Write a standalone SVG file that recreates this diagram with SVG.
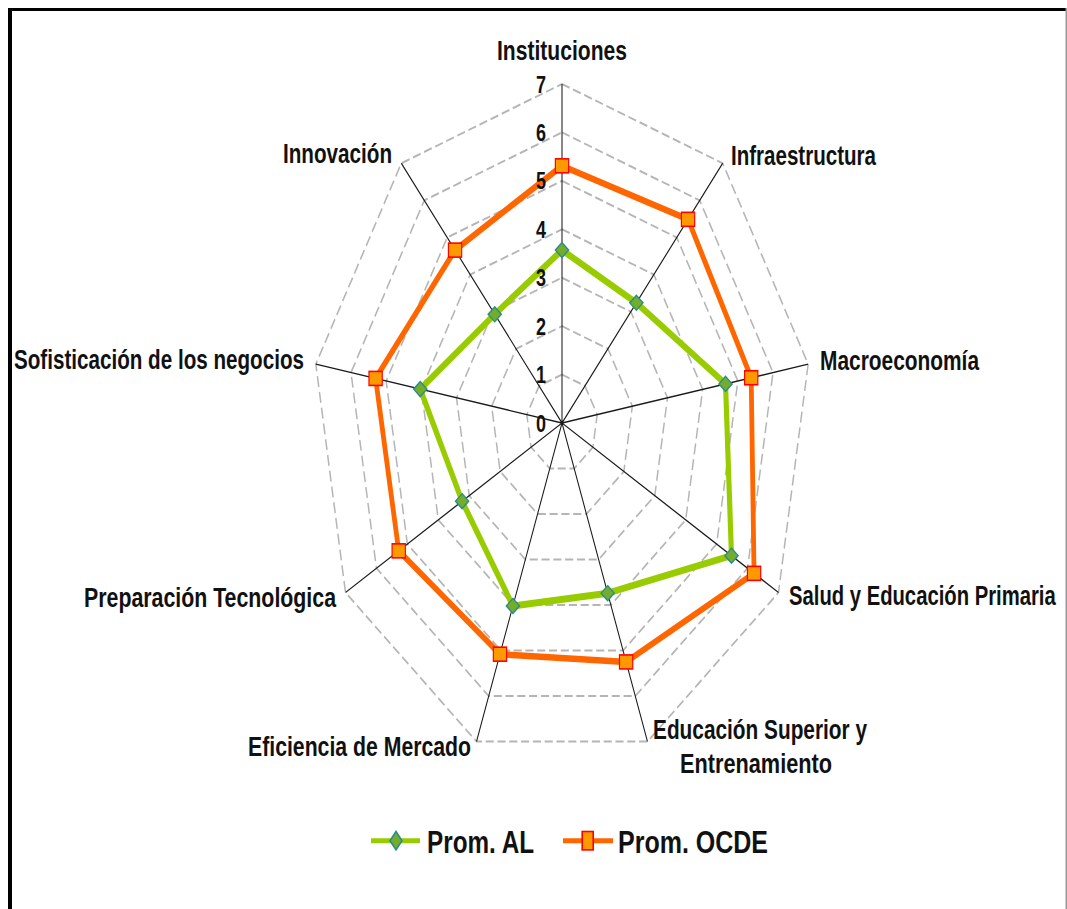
<svg xmlns="http://www.w3.org/2000/svg" xmlns:xlink="http://www.w3.org/1999/xlink" width="1067" height="909" viewBox="0 0 1067 909">
<style>
.lbl{font-family:"Liberation Sans",Arial,sans-serif;font-weight:bold;font-size:27px;fill:#111}
.num{font-family:"Liberation Sans",Arial,sans-serif;font-weight:bold;font-size:24px;fill:#111;text-anchor:end}
.leg{font-family:"Liberation Sans",Arial,sans-serif;font-weight:bold;font-size:31px;fill:#111}
.ring{fill:none;stroke:#B5B5B5;stroke-width:2;stroke-dasharray:11 5}
.axis{stroke:#1a1a1a;stroke-width:1.4;fill:none}
.al{fill:none;stroke:#99CC00;stroke-width:7;stroke-linejoin:round}
.ocde{fill:none;stroke:#FF6600;stroke-width:6.5;stroke-linejoin:round}
.dm{fill:#72AE2C;stroke:#2E8B8B;stroke-width:1.6}
.sq{fill:#FF9900;stroke:#FF0000;stroke-width:1.6}
</style>
<defs>
<path id="dm" d="M0,-7.5 L9,0 L0,7.5 L-9,0 Z"/>
<rect id="sq" x="-9" y="-7" width="18" height="14"/>
</defs>
<rect width="1067" height="909" fill="#fff"/>
<g id="frame">
<rect x="8" y="8" width="4" height="901" fill="#000"/>
<rect x="8" y="8" width="1059" height="3" fill="#000"/>
<rect x="1065.5" y="8" width="1.5" height="901" fill="#9a9a9a"/>
</g>
<g id="chart" transform="translate(562,423) scale(0.7374,1)">
<g id="grid">
<polygon class="ring" points="0,-48.43 31.13,-37.10 47.69,-8.41 41.94,24.22 16.56,45.51 -16.56,45.51 -41.94,24.22 -47.69,-8.41 -31.13,-37.10"/>
<polygon class="ring" points="0,-96.86 62.26,-74.20 95.38,-16.82 83.88,48.43 33.12,91.02 -33.12,91.02 -83.88,48.43 -95.38,-16.82 -62.26,-74.20"/>
<polygon class="ring" points="0,-145.29 93.39,-111.30 143.07,-25.23 125.82,72.65 49.68,136.53 -49.68,136.53 -125.82,72.65 -143.07,-25.23 -93.39,-111.30"/>
<polygon class="ring" points="0,-193.72 124.52,-148.40 190.76,-33.64 167.76,96.86 66.24,182.04 -66.24,182.04 -167.76,96.86 -190.76,-33.64 -124.52,-148.40"/>
<polygon class="ring" points="0,-242.15 155.65,-185.50 238.45,-42.05 209.70,121.08 82.80,227.55 -82.80,227.55 -209.70,121.08 -238.45,-42.05 -155.65,-185.50"/>
<polygon class="ring" points="0,-290.58 186.78,-222.60 286.14,-50.46 251.64,145.29 99.36,273.06 -99.36,273.06 -251.64,145.29 -286.14,-50.46 -186.78,-222.60"/>
<polygon class="ring" points="0,-339.01 217.91,-259.70 333.83,-58.87 293.58,169.51 115.92,318.57 -115.92,318.57 -293.58,169.51 -333.83,-58.87 -217.91,-259.70"/>
</g>
<g id="axes">
<path class="axis" d="M0,0 L0,-339.01 M0,0 L217.91,-259.70 M0,0 L333.83,-58.87 M0,0 L293.58,169.51 M0,0 L115.92,318.57 M0,0 L-115.92,318.57 M0,0 L-293.58,169.51 M0,0 L-333.83,-58.87 M0,0 L-217.91,-259.70"/>
</g>
<g id="connectors">
<polygon class="al" points="0,-172.9 100.86,-120.2 221.76,-39.1 229.83,132.7 61.93,170.2 -66.57,182.95 -135.47,78.21 -192.19,-33.89 -91.21,-108.70"/>
<polygon class="ocde" points="0,-257.16 170.90,-203.68 256.57,-45.25 260.45,150.37 86.94,238.93 -84.12,231.19 -221.44,127.85 -252.76,-44.57 -145.07,-172.89"/>
</g>
<g id="markers-al">
<use href="#dm" class="dm" x="0" y="-172.9"/>
<use href="#dm" class="dm" x="100.86" y="-120.2"/>
<use href="#dm" class="dm" x="221.76" y="-39.1"/>
<use href="#dm" class="dm" x="229.83" y="132.7"/>
<use href="#dm" class="dm" x="61.93" y="170.2"/>
<use href="#dm" class="dm" x="-66.57" y="182.95"/>
<use href="#dm" class="dm" x="-135.47" y="78.21"/>
<use href="#dm" class="dm" x="-192.19" y="-33.89"/>
<use href="#dm" class="dm" x="-91.21" y="-108.70"/>
</g>
<g id="markers-ocde">
<use href="#sq" class="sq" x="0" y="-257.16"/>
<use href="#sq" class="sq" x="170.90" y="-203.68"/>
<use href="#sq" class="sq" x="256.57" y="-45.25"/>
<use href="#sq" class="sq" x="260.45" y="150.37"/>
<use href="#sq" class="sq" x="86.94" y="238.93"/>
<use href="#sq" class="sq" x="-84.12" y="231.19"/>
<use href="#sq" class="sq" x="-221.44" y="127.85"/>
<use href="#sq" class="sq" x="-252.76" y="-44.57"/>
<use href="#sq" class="sq" x="-145.07" y="-172.89"/>
</g>
</g>
<g id="scale">
<text class="num" x="546" y="431.5" textLength="10" lengthAdjust="spacingAndGlyphs">0</text>
<text class="num" x="546" y="383.1" textLength="10" lengthAdjust="spacingAndGlyphs">1</text>
<text class="num" x="546" y="334.6" textLength="10" lengthAdjust="spacingAndGlyphs">2</text>
<text class="num" x="546" y="286.2" textLength="10" lengthAdjust="spacingAndGlyphs">3</text>
<text class="num" x="546" y="237.8" textLength="10" lengthAdjust="spacingAndGlyphs">4</text>
<text class="num" x="546" y="189.4" textLength="10" lengthAdjust="spacingAndGlyphs">5</text>
<text class="num" x="546" y="140.9" textLength="10" lengthAdjust="spacingAndGlyphs">6</text>
<text class="num" x="546" y="92.5" textLength="10" lengthAdjust="spacingAndGlyphs">7</text>
</g>
<g id="n-instituciones"><text class="lbl" x="497" y="60" textLength="130" lengthAdjust="spacingAndGlyphs">Instituciones</text></g>
<g id="n-infraestructura"><text class="lbl" x="731" y="165" textLength="145" lengthAdjust="spacingAndGlyphs">Infraestructura</text></g>
<g id="n-macroeconomia"><text class="lbl" x="820" y="370" textLength="159" lengthAdjust="spacingAndGlyphs">Macroeconomía</text></g>
<g id="n-salud" transform="translate(789,605) scale(0.75,1)"><text class="lbl" x="0" y="0">Salud y Educación Primaria</text></g>
<g id="n-educacion">
<text class="lbl" x="653" y="739" textLength="214" lengthAdjust="spacingAndGlyphs">Educación Superior y</text>
<text class="lbl" x="680" y="773" textLength="152" lengthAdjust="spacingAndGlyphs">Entrenamiento</text>
</g>
<g id="n-eficiencia"><text class="lbl" x="248" y="756" textLength="223" lengthAdjust="spacingAndGlyphs">Eficiencia de Mercado</text></g>
<g id="n-preparacion"><text class="lbl" x="84" y="607" textLength="252" lengthAdjust="spacingAndGlyphs">Preparación Tecnológica</text></g>
<g id="n-sofisticacion"><text class="lbl" x="14" y="369" textLength="290" lengthAdjust="spacingAndGlyphs">Sofisticación de los negocios</text></g>
<g id="n-innovacion"><text class="lbl" x="283" y="163" textLength="109" lengthAdjust="spacingAndGlyphs">Innovación</text></g>
<g id="legend">
<line x1="371" y1="840.7" x2="420" y2="840.7" stroke="#99CC00" stroke-width="5"/>
<path d="M396,831.5 L402,840.7 L396,849.9 L390,840.7 Z" class="dm"/>
<text class="leg" x="427" y="853" textLength="107" lengthAdjust="spacingAndGlyphs">Prom. AL</text>
<line x1="563" y1="840.7" x2="613" y2="840.7" stroke="#FF6600" stroke-width="5"/>
<rect x="582.2" y="831.5" width="11" height="18.4" class="sq"/>
<text class="leg" x="618" y="853" textLength="150" lengthAdjust="spacingAndGlyphs">Prom. OCDE</text>
</g>
</svg>
